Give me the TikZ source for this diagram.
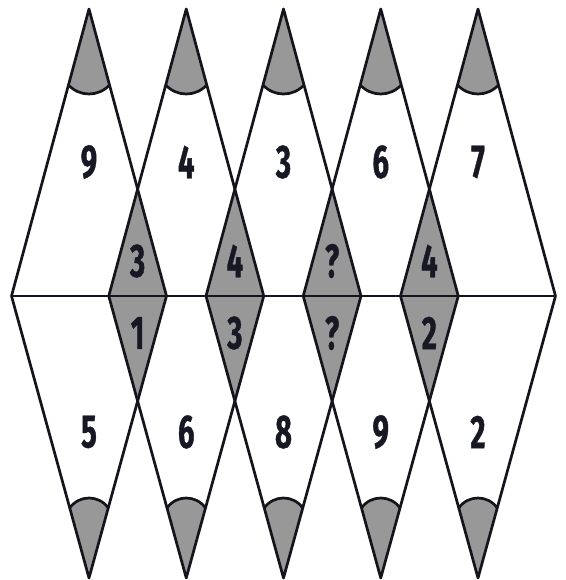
\documentclass[tikz,border=0pt]{standalone}
\usepackage{fontspec}
\newfontfamily\numfont[FakeStretch=0.62,BoldFeatures={FakeBold=0.8}]{Fira Sans}
\definecolor{fillgray}{RGB}{152,152,152}
\definecolor{inkcol}{RGB}{20,20,28}
\definecolor{numcol}{RGB}{24,24,36}
\begin{document}
\begin{tikzpicture}[x=1pt,y=-1pt,
  outline/.style={draw=inkcol,line width=2.7pt,line join=round},
  shade/.style={fill=fillgray},
  num/.style={text=numcol,font=\numfont\bfseries\fontsize{47}{47}\selectfont,inner sep=0pt,anchor=center}]
\useasboundingbox (0,0) rectangle (565,580);
\fill[white] (0,0) rectangle (565,580);
% gray diamonds
\foreach \a/\b in {89/186.25,186.25/283.5,283.5/380.75,380.75/478}{
  \pgfmathsetmacro{\m}{(\a+\b)/2}
  \fill[shade] (\b-77.5,296) -- (\m,189) -- (\a+77.5,296) -- (\m,401) -- cycle;
}
% caps
\foreach \c in {89,186.25,283.5,380.75,478}{
  \begin{scope}[shift={(\c,9)}]
    \fill[shade] (-20.5,76) .. controls (-9.46,88) and (9.46,88) .. (20.5,76) -- (0,0) -- cycle;
    \draw[outline] (-20.5,76) .. controls (-9.46,88) and (9.46,88) .. (20.5,76);
  \end{scope}
  \begin{scope}[shift={(\c,578)}]
    \fill[shade] (-19.24,-70) .. controls (-9.89,-83.33) and (9.89,-83.33) .. (19.24,-70) -- (0,0) -- cycle;
    \draw[outline] (-19.24,-70) .. controls (-9.89,-83.33) and (9.89,-83.33) .. (19.24,-70);
  \end{scope}
  \draw[outline] (\c-77.5,296) -- (\c,9) -- (\c+77.5,296);
  \draw[outline] (\c-77.5,296) -- (\c,578) -- (\c+77.5,296);
}
\draw[outline] (11.5,296) -- (555.5,296);
% numbers
\node[num] (t1) at (89,162) {9};
\node[num] (t2) at (186.25,162) {4};
\node[num] (t3) at (283.5,162) {3};
\node[num] (t4) at (380.75,162) {6};
\node[num] (t5) at (478,162) {7};
\node[num] (d1) at (137.6,261) {3};
\node[num] (d2) at (234.9,261) {4};
\node[num] (d3) at (332.1,261) {?};
\node[num] (d4) at (429.4,261) {4};
\node[num] (e1) at (137.6,333) {1};
\node[num] (e2) at (234.9,333) {3};
\node[num] (e3) at (332.1,333) {?};
\node[num] (e4) at (429.4,333) {2};
\node[num] (b1) at (89,432) {5};
\node[num] (b2) at (186.25,432) {6};
\node[num] (b3) at (283.5,432) {8};
\node[num] (b4) at (380.75,432) {9};
\node[num] (b5) at (478,432) {2};
\end{tikzpicture}
\end{document}
